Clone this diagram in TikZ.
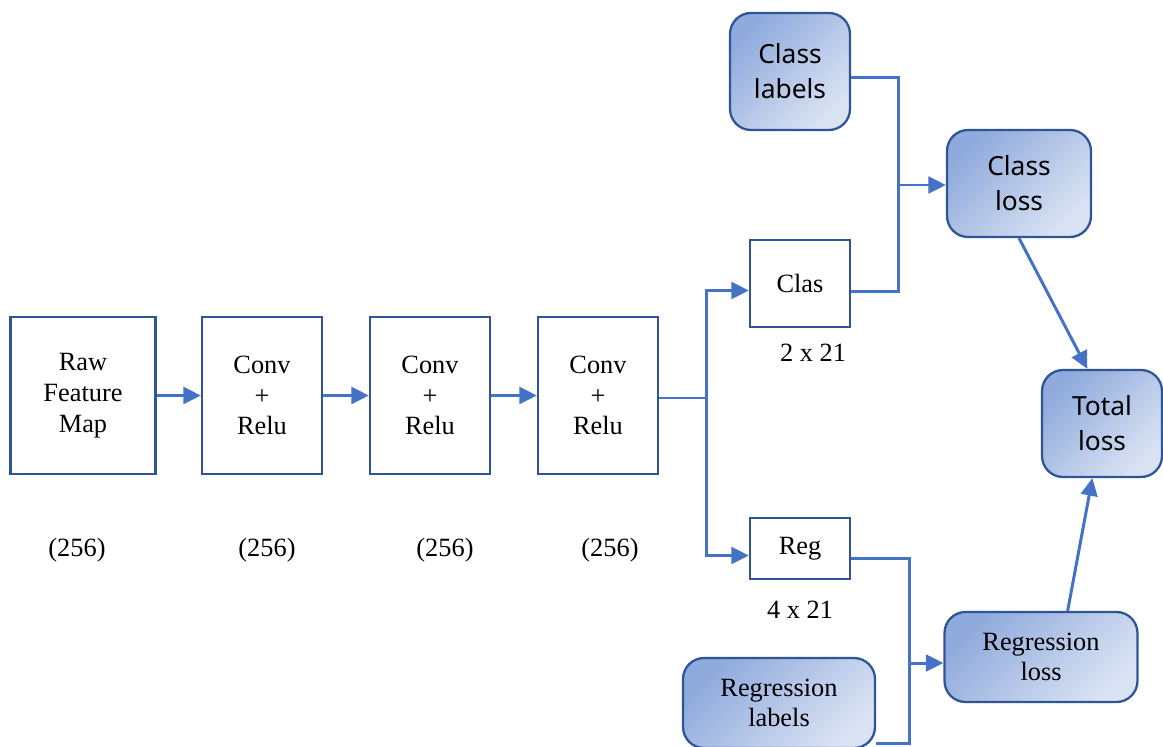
\documentclass[tikz,border=0pt]{standalone}
\usepackage{fontspec}
\setmainfont{Liberation Serif}
\newfontfamily\labelfont{Noto Sans}
\usetikzlibrary{arrows.meta,calc}
\definecolor{boxline}{HTML}{2F5597}
\definecolor{linkblue}{HTML}{4472C4}
\definecolor{shadedark}{HTML}{8FAADC}
\definecolor{shadelight}{HTML}{DAE3F3}
\tikzset{
  plain/.style={draw=boxline, line width=1.3pt, fill=white, align=center,
    font=\fontsize{15}{17.5}\selectfont, inner sep=0pt},
  soft/.style={draw=boxline, line width=1.3pt, rounded corners=0.42cm,
    top color=shadedark, bottom color=shadelight, shading angle=45,
    align=center, inner sep=0pt},
  serifsoft/.style={soft, font=\fontsize{15}{17.5}\selectfont},
  sanssoft/.style={soft, font=\labelfont\fontsize{15}{20}\selectfont},
  link/.style={draw=linkblue, line width=1.7pt},
  flow/.style={link, -{Triangle[length=10pt,width=9.5pt]}},
  dimtext/.style={font=\fontsize{15}{17.5}\selectfont, inner sep=0pt}
}
\begin{document}
\begin{tikzpicture}[x=0.02cm, y=-0.02cm]
\useasboundingbox (0,0) rectangle (1163,747);

% feature extractor chain
\node[plain, minimum width=2.9cm, minimum height=3.14cm] (raw) at (83,395.5) {Raw\\Feature\\Map};
\node[plain, minimum width=2.4cm, minimum height=3.14cm] (c1) at (262,395.5) {Conv\\+\\Relu};
\node[plain, minimum width=2.4cm, minimum height=3.14cm] (c2) at (430,395.5) {Conv\\+\\Relu};
\node[plain, minimum width=2.4cm, minimum height=3.14cm] (c3) at (598,395.5) {Conv\\+\\Relu};

\node[dimtext] (d0) at (77,550) {(256)};
\node[dimtext] (d1) at (267,550) {(256)};
\node[dimtext] (d2) at (445,550) {(256)};
\node[dimtext] (d3) at (610,550) {(256)};

% heads
\node[plain, minimum width=2.0cm, minimum height=1.74cm] (clas) at (800,283.5) {Clas};
\node[plain, minimum width=2.0cm, minimum height=1.22cm] (reg) at (800,548.5) {Reg};
\node[dimtext] (clasdim) at (813,353) {2 x 21};
\node[dimtext] (regdim) at (800,610) {4 x 21};

% targets and losses
\node[sanssoft, minimum width=2.4cm, minimum height=2.34cm] (clab) at (790,71.5) {Class\\labels};
\node[sanssoft, minimum width=2.88cm, minimum height=2.14cm] (closs) at (1019,183.5) {Class\\loss};
\node[sanssoft, minimum width=2.4cm, minimum height=2.14cm] (tloss) at (1102,423.5) {Total\\loss};
\node[serifsoft, minimum width=3.84cm, minimum height=1.8cm] (rlab) at (779,703) {Regression\\labels};
\node[serifsoft, minimum width=3.86cm, minimum height=1.8cm] (rloss) at (1041,657) {Regression\\loss};

% chain connectors
\draw[flow] (raw) -- (c1);
\draw[flow] (c1) -- (c2);
\draw[flow] (c2) -- (c3);

% split into the two heads
\coordinate (split) at (706,398);
\draw[link] (c3.east |- split) -- (split);
\draw[flow] (split) |- ($(clas.west)+(0,7)$);
\draw[flow] (split) |- ($(reg.west)+(0,7)$);

% classification branch
\coordinate (cjoin) at (898,185);
\draw[link] ($(clab.east)+(0,6)$) -| (cjoin);
\draw[link] ($(clas.east)+(0,8)$) -| (cjoin);
\draw[flow] (cjoin) -- (closs.west |- cjoin);

% regression branch
\coordinate (rjoin) at (909,663);
\draw[link] ($(reg.east)+(0,10)$) -| (rjoin);
\draw[link] ($(rlab.east)+(0,40)$) -| (rjoin);
\draw[flow] (rjoin) -- (rloss.west |- rjoin);

% total loss
\draw[flow] (closs.south) -- (tloss.105);
\draw[flow] (rloss.60) -- (tloss.-100);
\end{tikzpicture}
\end{document}
